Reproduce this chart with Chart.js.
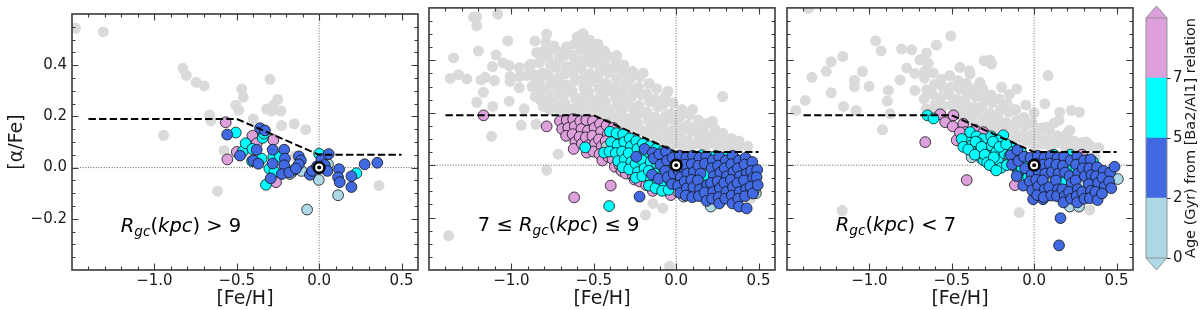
<!DOCTYPE html>
<html><head><meta charset="utf-8">
<script src="https://cdn.jsdelivr.net/npm/chart.js@4.4.1/dist/chart.umd.min.js"></script>
<style>
html,body{margin:0;padding:0;background:#fff;}
#wrap{position:relative;width:1200px;height:310px;overflow:hidden;background:#fff;}
canvas{position:absolute;left:0;top:0;}
</style></head><body>
<div id="wrap">
<canvas id="c1" width="1200" height="310" style="width:1200px;height:310px"></canvas>
<canvas id="c2" width="1200" height="310" style="width:1200px;height:310px"></canvas>
<canvas id="c3" width="1200" height="310" style="width:1200px;height:310px"></canvas>
<canvas id="cb" width="1200" height="310" style="width:1200px;height:310px"></canvas>
</div>
<script>
// ---------------- axes / ticks ----------------
const X_RANGE = [-1.5, 0.6];
const Y_RANGE = [-0.4, 0.6];
const X_MAJOR = [-1.0, -0.5, 0.0, 0.5];
const X_LABELS = ['−1.0', '−0.5', '0.0', '0.5'];
const X_MINOR = [-1.4,-1.3,-1.2,-1.1,-0.9,-0.8,-0.7,-0.6,-0.4,-0.3,-0.2,-0.1,0.1,0.2,0.3,0.4];
const Y_MAJOR = [-0.2, 0.0, 0.2, 0.4];
const Y_LABELS = ['−0.2', '0.0', '0.2', '0.4'];
const Y_MINOR = [-0.35,-0.3,-0.25,-0.15,-0.1,-0.05,0.05,0.1,0.15,0.25,0.3,0.35,0.45,0.5,0.55];

// thick/thin disc boundary
const BOUNDARY_FEH = [-1.4, -0.5, 0.0, 0.5];
const BOUNDARY_ALPHA = [0.19, 0.19, 0.05, 0.05];

// colour bar (age, Gyr)
const CB_TICK_LABELS = ['0', '2', '5', '7'];
const CB_LIMITS = [2, 5, 7, Infinity];
const CB_COLORS = ['#add8e6', '#4169e1', '#00ffff', '#dda0dd'];
const AGE = { young: 1.0, mid: 3.5, old: 6.0, oldest: 8.5 };

// ---------------- panel 1 : Rgc > 9 ----------------
const P1_GRAY = [[-1.478,0.544],[-1.31,0.53],[-0.827,0.388],[-0.806,0.36],[-0.746,0.333],[-0.698,0.319],[-0.665,0.205],[-0.657,0.183],[-0.944,0.126],[-0.47,0.307],[-0.46,0.275],[-0.506,0.244],[-0.488,0.224],[-0.40,0.19],[-0.298,0.345],[-0.319,0.228],[-0.288,0.221],[-0.278,0.244],[-0.252,0.266],[-0.232,0.221],[-0.228,0.164],[-0.151,0.171],[-0.081,0.148],[-0.577,0.067],[-0.617,-0.092],[0.363,-0.07],[-0.415,0.05],[-0.147,0.045]];
const P1_OLDEST = [[-0.567,0.177],[-0.557,0.032],[-0.50,0.061],[-0.405,0.124],[-0.379,0.095],[-0.278,0.108],[-0.262,-0.057]];
const P1_OLD = [[-0.506,0.137],[-0.464,0.063],[-0.446,0.095],[-0.405,0.073],[-0.343,0.116],[-0.335,0.133],[-0.349,0.035],[-0.302,-0.004],[-0.278,0.042],[-0.272,-0.016],[-0.238,0.042],[-0.323,-0.067],[0.0,0.054],[0.226,-0.022],[-0.407,0.025]];
const P1_YOUNG = [[-0.208,-0.016],[-0.167,-0.019],[-0.147,-0.006],[-0.131,-0.003],[-0.107,-0.013],[-0.002,-0.048],[0.054,0.013],[0.115,-0.108],[-0.073,-0.164],[-0.177,-0.025]];
const P1_MID = [[-0.558,0.129],[-0.48,0.047],[-0.40,0.028],[-0.379,0.07],[-0.369,0.015],[-0.359,0.154],[-0.329,0.145],[-0.282,0.07],[-0.282,0.016],[-0.294,-0.042],[-0.212,0.07],[-0.208,0.035],[-0.212,0.009],[-0.226,-0.025],[-0.181,-0.019],[-0.123,0.044],[-0.111,0.028],[-0.123,0.013],[-0.141,-0.004],[-0.056,-0.028],[-0.042,-0.013],[-0.012,0.006],[0.014,0.034],[0.034,0.01],[0.05,-0.013],[0.058,0.053],[0.121,-0.006],[0.115,-0.038],[0.125,-0.057],[0.196,-0.034],[0.196,-0.076],[0.276,0.013],[0.353,0.019]];

// ---------------- panel 2 : 7 <= Rgc <= 9 ----------------
const P2_GRAY = [[-1.23,0.565],[-1.21,0.565],[-1.21,0.531],[-1.083,0.576],[-1.022,0.474],[-1.2,0.436],[-1.351,0.409],[-1.093,0.42],[-1.115,0.376],[-1.013,0.38],[-0.952,0.373],[-0.892,0.38],[-1.371,0.331],[-1.321,0.345],[-1.27,0.329],[-1.184,0.325],[-1.16,0.335],[-1.103,0.323],[-1.008,0.338],[-1.008,0.32],[-0.952,0.338],[-0.904,0.342],[-0.952,0.295],[-1.17,0.278],[-1.21,0.24],[-1.113,0.224],[-1.013,0.244],[-0.922,0.215],[-0.847,0.323],[-0.843,0.278],[-0.793,0.285],[-0.94,0.152],[-0.851,0.156],[-0.786,0.5],[-0.79,0.468],[-0.857,0.474],[-0.847,0.43],[-0.777,0.443],[-0.742,0.455],[-0.565,0.502],[-0.524,0.477],[-0.474,0.462],[-0.434,0.436],[-0.514,0.424],[-0.615,0.405],[-0.686,0.43],[-1.12,0.11],[-0.716,0.042],[-0.786,-0.019],[-1.381,-0.269],[-0.04,-0.386],[-0.081,-0.164],[-0.141,-0.146],[-0.186,-0.19],[0.454,-0.127],[0.282,0.262],[-0.706,0.209],[-0.786,0.231],[-1.05,0.39],[-0.6,0.49],[-0.36,0.418],[-0.2,0.352],[-0.05,0.282],[0.1,0.212],[0.22,0.168]];
const P2_GRAY_CLOUD = [[-0.88,0.385],[-0.86,0.345],[-0.875,0.30],[-0.855,0.262],
 [-0.815,0.432],[-0.83,0.392],[-0.81,0.352],[-0.828,0.318],[-0.812,0.288],[-0.825,0.25],[-0.808,0.224],
 [-0.765,0.452],[-0.778,0.41],[-0.762,0.382],[-0.775,0.342],[-0.76,0.312],[-0.772,0.27],[-0.758,0.242],[-0.768,0.212],
 [-0.725,0.436],[-0.712,0.402],[-0.728,0.372],[-0.715,0.332],[-0.722,0.298],[-0.71,0.268],[-0.726,0.228],
 [-0.665,0.452],[-0.678,0.418],[-0.662,0.376],[-0.675,0.348],[-0.668,0.306],[-0.66,0.278],[-0.676,0.238],[-0.664,0.212],
 [-0.618,0.462],[-0.628,0.42],[-0.612,0.392],[-0.625,0.352],[-0.615,0.322],[-0.63,0.282],[-0.61,0.252],[-0.622,0.216],
 [-0.565,0.468],[-0.578,0.438],[-0.562,0.398],[-0.575,0.368],[-0.568,0.328],[-0.56,0.296],[-0.574,0.258],[-0.566,0.228],[-0.58,0.205],
 [-0.518,0.452],[-0.528,0.418],[-0.512,0.388],[-0.525,0.348],[-0.515,0.318],[-0.53,0.278],[-0.51,0.248],[-0.522,0.21],
 [-0.465,0.432],[-0.478,0.402],[-0.462,0.362],[-0.475,0.332],[-0.468,0.292],[-0.46,0.262],[-0.474,0.222],[-0.466,0.196],
 [-0.418,0.418],[-0.428,0.382],[-0.412,0.352],[-0.425,0.312],[-0.415,0.282],[-0.43,0.242],[-0.41,0.212],[-0.422,0.186],
 [-0.365,0.398],[-0.378,0.368],[-0.362,0.328],[-0.375,0.298],[-0.368,0.258],[-0.36,0.228],[-0.374,0.188],[-0.366,0.172],
 [-0.318,0.382],[-0.328,0.352],[-0.312,0.312],[-0.325,0.282],[-0.315,0.242],[-0.33,0.212],[-0.31,0.178],[-0.322,0.158],
 [-0.265,0.358],[-0.278,0.328],[-0.262,0.288],[-0.275,0.258],[-0.268,0.218],[-0.26,0.188],[-0.274,0.155],[-0.266,0.142],
 [-0.218,0.338],[-0.228,0.298],[-0.212,0.268],[-0.225,0.228],[-0.215,0.198],[-0.23,0.158],[-0.21,0.132],
 [-0.165,0.312],[-0.178,0.272],[-0.162,0.242],[-0.175,0.202],[-0.168,0.172],[-0.16,0.138],[-0.174,0.118],
 [-0.118,0.292],[-0.128,0.252],[-0.112,0.222],[-0.125,0.182],[-0.115,0.152],[-0.13,0.118],[-0.11,0.102],
 [-0.065,0.262],[-0.078,0.232],[-0.062,0.192],[-0.075,0.162],[-0.068,0.128],[-0.06,0.102],[-0.074,0.086],
 [-0.018,0.238],[-0.028,0.198],[-0.012,0.168],[-0.025,0.132],[-0.015,0.106],[-0.03,0.076],
 [0.035,0.212],[0.022,0.182],[0.038,0.142],[0.025,0.118],[0.032,0.082],[0.04,0.066],
 [0.082,0.192],[0.072,0.152],[0.088,0.128],[0.075,0.092],[0.085,0.07],
 [0.135,0.172],[0.122,0.142],[0.138,0.108],[0.125,0.082],
 [0.182,0.158],[0.172,0.122],[0.188,0.098],[0.175,0.068],
 [0.235,0.138],[0.222,0.112],[0.238,0.078],
 [0.282,0.122],[0.272,0.088],[0.288,0.07],
 [0.335,0.102],[0.322,0.078],
 [0.382,0.092],[0.372,0.064],
 [0.435,0.072]];
const P2_OLDEST = [[-1.169,0.19],[-0.786,0.148],[-0.619,-0.123],[-0.397,-0.078],
 [-0.705,0.168],[-0.692,0.138],[-0.664,0.172],[-0.655,0.142],[-0.668,0.112],
 [-0.625,0.176],[-0.615,0.148],[-0.628,0.118],[-0.612,0.088],[-0.622,0.062],
 [-0.582,0.168],[-0.575,0.138],[-0.586,0.108],[-0.572,0.082],
 [-0.545,0.172],[-0.535,0.132],[-0.548,0.106],[-0.532,0.076],[-0.542,0.048],
 [-0.505,0.168],[-0.495,0.142],[-0.508,0.112],[-0.492,0.082],[-0.502,0.052],
 [-0.462,0.158],[-0.455,0.128],[-0.468,0.098],[-0.452,0.072],[-0.465,0.042],[-0.448,0.018],
 [-0.422,0.152],[-0.415,0.118],[-0.428,0.092],[-0.412,0.032],
 [-0.382,0.142],[-0.372,0.108],[-0.385,0.022],[-0.372,-0.006],
 [-0.342,0.122],[-0.335,0.096],[-0.345,0.002],[-0.332,-0.022],
 [-0.302,0.112],[-0.305,-0.032],
 [-0.262,-0.042],[-0.252,-0.055],[-0.222,-0.062],[-0.182,-0.076],[-0.142,-0.098],[-0.032,-0.114]];
const P2_YOUNG = [[-0.423,0.07],[-0.05,-0.019],[0.04,-0.057],[0.045,-0.12],[0.01,-0.101],[0.21,-0.158],[0.484,-0.107],[0.07,-0.05],[0.2,-0.087],[0.47,-0.1],[-0.26,0.09],[0.32,-0.06]];
const P2_OLD = [[-0.407,-0.156],[-0.552,0.068],[-0.438,0.048],
 [-0.402,0.128],[-0.395,0.088],[-0.405,0.052],
 [-0.362,0.122],[-0.355,0.078],[-0.366,0.046],[-0.352,0.016],
 [-0.322,0.118],[-0.315,0.088],[-0.328,0.052],[-0.312,0.022],[-0.325,-0.008],
 [-0.282,0.102],[-0.275,0.072],[-0.288,0.046],[-0.272,0.012],[-0.285,-0.016],
 [-0.242,0.092],[-0.235,0.062],[-0.246,0.006],[-0.232,-0.026],[-0.245,-0.048],
 [-0.202,0.082],[-0.195,0.048],[-0.206,0.018],[-0.192,-0.012],[-0.205,-0.042],
 [-0.162,0.072],[-0.155,0.012],[-0.166,-0.022],[-0.152,-0.052],[-0.165,-0.078],
 [-0.122,0.062],[-0.115,0.006],[-0.126,-0.032],[-0.112,-0.062],[-0.125,-0.088],
 [-0.082,0.052],[-0.075,-0.012],[-0.086,-0.042],[-0.072,-0.072],[-0.085,-0.098],
 [-0.042,0.038],[-0.035,-0.062],[-0.046,-0.094],
 [0.052,-0.094],[0.102,-0.098],[0.122,0.032],[0.182,-0.038],[0.202,0.032],[0.242,0.036],[0.302,0.03],[0.362,0.022],[0.155,0.038],[0.26,-0.07]];
const P2_MID = [[-0.222,-0.12],[-0.242,0.032],[-0.192,0.062],
 [-0.142,0.048],[-0.135,0.026],[-0.146,-0.036],
 [-0.102,0.042],[-0.095,0.002],[-0.106,-0.052],
 [-0.062,0.052],[-0.055,0.018],[-0.066,-0.022],[-0.052,-0.046],
 [-0.022,0.028],[-0.015,-0.032],[-0.026,-0.072],
 [0.022,0.036],[0.015,-0.022],[0.028,-0.046],[0.012,-0.078],[0.025,-0.106],
 [0.062,0.028],[0.055,0.002],[0.068,-0.032],[0.052,-0.062],[0.065,-0.088],[0.058,-0.116],
 [0.102,0.036],[0.095,0.004],[0.108,-0.026],[0.092,-0.056],[0.105,-0.084],[0.098,-0.122],
 [0.142,0.028],[0.135,-0.002],[0.148,-0.032],[0.132,-0.058],[0.145,-0.092],[0.138,-0.118],
 [0.182,0.032],[0.175,0.006],[0.188,-0.076],[0.172,-0.104],[0.185,-0.136],
 [0.222,0.018],[0.215,-0.012],[0.228,-0.042],[0.212,-0.068],[0.225,-0.102],[0.218,-0.128],
 [0.262,0.032],[0.255,-0.002],[0.268,-0.028],[0.252,-0.062],[0.265,-0.088],[0.258,-0.122],[0.262,-0.146],
 [0.302,0.018],[0.295,-0.012],[0.308,-0.042],[0.292,-0.068],[0.305,-0.102],[0.298,-0.128],
 [0.342,0.036],[0.335,0.004],[0.348,-0.026],[0.332,-0.056],[0.345,-0.084],[0.338,-0.116],[0.342,-0.146],
 [0.382,0.018],[0.375,-0.012],[0.388,-0.042],[0.372,-0.068],[0.385,-0.102],[0.378,-0.128],[0.382,-0.158],
 [0.422,0.028],[0.415,0.002],[0.428,-0.032],[0.412,-0.058],[0.425,-0.092],[0.418,-0.118],[0.428,-0.165],
 [0.462,0.012],[0.455,-0.022],[0.468,-0.048],[0.452,-0.082],[0.465,-0.108],
 [0.492,-0.018],[0.488,-0.046],[0.495,-0.076]];

// ---------------- panel 3 : Rgc < 7 ----------------
const P3_GRAY = [[-1.369,0.598],[-0.506,0.493],[-0.962,0.474],[-0.929,0.436],[-0.805,0.443],[-0.744,0.44],[-0.653,0.428],[-0.593,0.458],[-0.693,0.402],[-0.643,0.388],[-0.774,0.371],[-0.724,0.35],[-0.663,0.358],[-0.814,0.325],[-0.724,0.285],[-0.885,0.285],[-0.891,0.244],[-0.875,0.196],[-0.921,0.135],[-1.08,0.209],[-1.157,0.224],[-1.232,0.276],[-1.389,0.247],[-1.446,0.209],[-1.349,0.335],[-1.262,0.358],[-1.232,0.395],[-1.161,0.415],[-1.042,0.357],[-1.091,0.323],[-1.091,0.3],[-1.002,0.301],[-1.165,-0.173],[-0.091,-0.181],[0.337,-0.171],[-0.304,0.398],[-0.268,0.401],[-0.393,0.36],[-0.329,0.316],[-0.45,0.373],[0.226,0.209],[0.151,0.171],[0.065,0.234],[0.075,0.145],[0.145,0.088],[0.216,0.133],[0.256,0.07],[0.276,0.202],[0.317,0.088],[0.155,0.202],[0.085,0.342],[-0.197,0.297],[-0.106,0.291],[-0.389,0.348],[-0.258,0.386],[-0.15,0.27],[-0.05,0.23],[0.0,0.2],[0.12,0.16],[0.2,0.12],[0.37,0.03],[0.39,-0.1]];
const P3_GRAY_CLOUD = [[-0.665,0.332],[-0.652,0.288],[-0.668,0.252],[-0.655,0.214],
 [-0.612,0.352],[-0.605,0.308],[-0.618,0.272],[-0.602,0.232],[-0.615,0.206],
 [-0.562,0.328],[-0.555,0.298],[-0.568,0.258],[-0.552,0.226],[-0.565,0.204],
 [-0.512,0.342],[-0.505,0.298],[-0.518,0.268],[-0.502,0.228],
 [-0.462,0.322],[-0.455,0.292],[-0.468,0.252],[-0.452,0.222],[-0.465,0.194],
 [-0.412,0.312],[-0.405,0.272],[-0.418,0.242],[-0.402,0.202],[-0.415,0.182],
 [-0.362,0.292],[-0.355,0.262],[-0.368,0.222],[-0.352,0.192],[-0.365,0.164],
 [-0.312,0.292],[-0.305,0.252],[-0.318,0.222],[-0.302,0.182],[-0.315,0.156],
 [-0.262,0.268],[-0.255,0.238],[-0.268,0.198],[-0.252,0.168],[-0.265,0.14],
 [-0.212,0.252],[-0.205,0.212],[-0.218,0.182],[-0.202,0.148],[-0.215,0.126],
 [-0.162,0.232],[-0.155,0.202],[-0.168,0.162],[-0.152,0.136],[-0.165,0.11],
 [-0.112,0.212],[-0.105,0.172],[-0.118,0.142],[-0.102,0.108],[-0.115,0.094],
 [-0.062,0.182],[-0.055,0.152],[-0.068,0.118],[-0.052,0.092],
 [-0.012,0.162],[-0.005,0.122],[-0.018,0.096],[-0.002,0.07],
 [0.042,0.142],[0.035,0.112],[0.048,0.08],
 [0.092,0.132],[0.085,0.094],[0.098,0.07],
 [0.142,0.112],[0.135,0.086],
 [0.192,0.106],[0.185,0.074],
 [0.242,0.092],[0.235,0.07],
 [0.292,0.086],[0.285,0.064],
 [0.342,0.074],
 [0.392,0.066]];
const P3_OLDEST = [[-0.661,0.088],[-0.409,-0.057],[-0.117,-0.076],[-0.57,0.194],[-0.54,0.164],[-0.49,0.19],[-0.494,0.148],[-0.43,0.158],[-0.419,0.126],[-0.47,0.095],[-0.36,0.135],[-0.308,0.126],[-0.369,0.07],[-0.33,0.065],[-0.157,0.019],[0.29,0.04],[-0.45,0.125]];
const P3_YOUNG = [[0.216,-0.158],[0.272,-0.158],[0.296,-0.076],[0.508,-0.053],[0.085,-0.114],[-0.379,0.03],[0.11,-0.067],[0.4,-0.1],[0.205,-0.09]];
const P3_OLD = [[-0.647,0.19],[-0.611,0.178],[-0.409,0.095],[-0.389,0.126],[-0.35,0.11],[-0.31,0.1],[-0.38,0.075],[-0.34,0.085],[-0.318,0.025],[-0.308,0.019],[-0.248,-0.006],[-0.33,0.045],[-0.29,0.06],[-0.26,0.075],[-0.27,0.035],[-0.23,0.05],[-0.197,0.076],[-0.187,0.114],[-0.22,0.02],[-0.18,0.045],[-0.14,0.07],[-0.15,0.035],[-0.12,0.04],[-0.087,0.019],[-0.066,-0.025],[-0.046,-0.05],[-0.036,-0.044],[-0.056,0.031],[-0.03,0.01],[-0.1,-0.03],[-0.13,0.0],[0.226,-0.006],[0.307,0.013],[0.357,0.013],[0.175,-0.057],[0.22,0.04],[0.175,0.031],[0.256,-0.013],[0.327,0.019],[0.12,0.04],[0.05,-0.07],[-0.26,0.11],[-0.22,0.095],
 [-0.44,0.1],[-0.43,0.07],[-0.4,0.06],[-0.36,0.04],[-0.355,0.09],[-0.32,0.07],[-0.3,0.04],[-0.285,0.01],[-0.25,0.09],[-0.245,0.03],[-0.21,0.07],[-0.2,-0.01],[-0.17,0.08],[-0.165,0.0],[-0.13,0.05],[-0.11,0.015],[-0.08,0.05],[-0.075,-0.01],[-0.05,0.0],[-0.02,-0.02],[-0.27,0.0],[-0.23,-0.02]];
const P3_MID = [[-0.006,-0.13],[0.054,-0.13],[0.16,-0.202],[0.151,-0.306],
 [-0.142,0.038],[-0.135,0.002],
 [-0.102,0.058],[-0.095,0.016],[-0.106,-0.042],
 [-0.062,0.032],[-0.055,-0.012],[-0.066,-0.078],
 [-0.022,0.028],[-0.015,-0.036],[-0.026,-0.062],[-0.012,-0.096],
 [0.022,0.036],[0.015,0.004],[0.028,-0.026],[0.012,-0.056],[0.025,-0.082],[0.018,-0.114],
 [0.062,0.028],[0.055,0.002],[0.068,-0.032],[0.052,-0.058],[0.065,-0.092],[0.058,-0.122],
 [0.102,0.036],[0.095,0.006],[0.108,-0.026],[0.092,-0.084],[0.105,-0.116],
 [0.142,0.028],[0.135,0.002],[0.148,-0.032],[0.132,-0.058],[0.145,-0.092],[0.138,-0.118],
 [0.182,0.032],[0.175,-0.002],[0.188,-0.028],[0.172,-0.092],[0.185,-0.118],[0.178,-0.142],
 [0.222,0.018],[0.215,-0.042],[0.228,-0.068],[0.212,-0.102],[0.225,-0.128],
 [0.262,0.032],[0.255,0.002],[0.268,-0.032],[0.252,-0.058],[0.265,-0.092],[0.258,-0.118],[0.262,-0.142],
 [0.302,0.018],[0.295,-0.012],[0.308,-0.042],[0.292,-0.102],[0.305,-0.128],
 [0.342,0.022],[0.335,-0.012],[0.348,-0.038],[0.332,-0.072],[0.345,-0.098],[0.338,-0.126],
 [0.382,-0.008],[0.375,-0.042],[0.388,-0.068],[0.372,-0.102],[0.385,-0.133],
 [0.422,-0.022],[0.415,-0.048],[0.428,-0.082],[0.412,-0.108],
 [0.462,-0.028],[0.455,-0.062],[0.468,-0.088],
 [0.488,-0.006]];

// ---------------- helpers ----------------
const FONT = "'DejaVu Sans', sans-serif";
Chart.defaults.font.family = FONT;
Chart.defaults.color = '#1a1a1a';

function pairs(list) { return list.map(([x, y]) => ({ x, y })); }
function withAge(points, age) { return points.map(p => ({ x: p.x, y: p.y, age })); }
function ageColor(a) { for (let i = 0; i < CB_LIMITS.length; i++) if (a < CB_LIMITS[i]) return CB_COLORS[i]; return CB_COLORS[3]; }

const framePlugin = {
  id: 'frame',
  afterDraw(chart) {
    const { ctx, chartArea: a, scales: { x, y } } = chart;
    ctx.save();
    ctx.strokeStyle = '#3a3a3a';
    ctx.lineWidth = 1.1;
    ctx.beginPath();
    const xt = (v, len) => { const p = Math.round(x.getPixelForValue(v)) + 0.5;
      ctx.moveTo(p, a.bottom); ctx.lineTo(p, a.bottom - len); ctx.moveTo(p, a.top); ctx.lineTo(p, a.top + len); };
    const yt = (v, len) => { const p = Math.round(y.getPixelForValue(v)) + 0.5;
      ctx.moveTo(a.left, p); ctx.lineTo(a.left + len, p); ctx.moveTo(a.right, p); ctx.lineTo(a.right - len, p); };
    X_MAJOR.forEach(v => xt(v, 6.5)); X_MINOR.forEach(v => xt(v, 3.5));
    Y_MAJOR.forEach(v => yt(v, 6.5)); Y_MINOR.forEach(v => yt(v, 3.5));
    ctx.stroke();
    ctx.lineWidth = 1.6;
    ctx.strokeRect(a.left, a.top, a.right - a.left, a.bottom - a.top);
    ctx.restore();
  }
};

function labelPlugin(parts) {
  return {
    id: 'rgcLabel',
    afterDraw(chart) {
      const { ctx, chartArea: a } = chart;
      const size = 19.5;
      let xx = a.left + 0.141 * (a.right - a.left);
      const base = a.bottom - 0.148 * (a.bottom - a.top);
      ctx.save();
      ctx.fillStyle = '#000'; ctx.textAlign = 'left'; ctx.textBaseline = 'alphabetic';
      parts.forEach(p => {
        const s = p.sub ? size * 0.7 : size;
        ctx.font = (p.it ? 'italic ' : '') + s + 'px ' + FONT;
        ctx.fillText(p.t, xx, base + (p.sub ? size * 0.2 : 0));
        xx += ctx.measureText(p.t).width;
      });
      ctx.restore();
    }
  };
}

function makePanel(id, left, right, gray, starGroups, showY, parts) {
  const starData = [];
  starGroups.forEach(g => starData.push(...g));
  const boundary = BOUNDARY_FEH.map((v, i) => ({ x: v, y: BOUNDARY_ALPHA[i] }));
  const datasets = [
    { label: 'Sun centre', data: [{ x: 0, y: 0 }], pointRadius: 2, backgroundColor: '#000', borderWidth: 0, order: 1 },
    { label: 'Sun', data: [{ x: 0, y: 0 }], pointRadius: 5.3, backgroundColor: '#fff', borderColor: '#000', borderWidth: 2.6, order: 2 },
    { label: 'thin/thick boundary', data: boundary, showLine: true, borderColor: '#000', borderWidth: 2, borderDash: [7.4, 3.2], pointRadius: 0, fill: false, tension: 0, order: 3 },
    { label: 'stars with age', data: starData, pointRadius: 5.4, borderWidth: 0.8, borderColor: '#111',
      backgroundColor: c => ageColor(c.raw ? c.raw.age : 0), order: 4 },
    { label: 'x=0', data: [{ x: 0, y: Y_RANGE[0] }, { x: 0, y: Y_RANGE[1] }], showLine: true, borderColor: '#666', borderWidth: 1, borderDash: [1, 1.65], pointRadius: 0, order: 5 },
    { label: 'y=0', data: [{ x: X_RANGE[0], y: 0 }, { x: X_RANGE[1], y: 0 }], showLine: true, borderColor: '#666', borderWidth: 1, borderDash: [1, 1.65], pointRadius: 0, order: 5 },
    { label: 'all stars', data: gray, pointRadius: 5.5, backgroundColor: '#dadada', borderWidth: 0, order: 6 }
  ];
  return new Chart(document.getElementById(id), {
    type: 'scatter',
    data: { datasets },
    options: {
      responsive: false, animation: false, events: [], devicePixelRatio: 1,
      layout: { padding: { left: 0, right: 1200 - right, top: 6, bottom: 0 } },
      plugins: { legend: { display: false }, tooltip: { enabled: false } },
      scales: {
        x: {
          type: 'linear', min: X_RANGE[0], max: X_RANGE[1],
          grid: { display: false, drawTicks: false }, border: { display: false },
          afterBuildTicks: s => { s.ticks = X_MAJOR.map(v => ({ value: v })); },
          afterFit: s => { s.height = 40; },
          ticks: { autoSkip: false, maxRotation: 0, padding: 2, font: { size: 15 }, color: '#1a1a1a',
            callback: (v, i) => X_LABELS[i] },
          title: { display: true, text: '[Fe/H]', font: { size: 19 }, color: '#1a1a1a', padding: { top: 0, bottom: 0 } }
        },
        y: {
          type: 'linear', min: Y_RANGE[0], max: Y_RANGE[1],
          grid: { display: false, drawTicks: false }, border: { display: false },
          afterBuildTicks: s => { s.ticks = Y_MAJOR.map(v => ({ value: v })); },
          afterFit: s => { s.width = left; },
          ticks: { display: showY, autoSkip: false, padding: 5, font: { size: 15 }, color: '#1a1a1a',
            callback: (v, i) => Y_LABELS[i] },
          title: { display: showY, text: '[α/Fe]', font: { size: 19 }, color: '#1a1a1a', padding: { top: 6, bottom: 0 } }
        }
      }
    },
    plugins: [framePlugin, labelPlugin(parts)]
  });
}

const R = [{ t: 'R', it: true }, { t: 'gc', it: true, sub: true }, { t: '(', it: false }, { t: 'kpc', it: true }, { t: ')', it: false }];

makePanel('c1', 72, 418, pairs(P1_GRAY),
  [withAge(pairs(P1_OLDEST), AGE.oldest), withAge(pairs(P1_YOUNG), AGE.young), withAge(pairs(P1_OLD), AGE.old), withAge(pairs(P1_MID), AGE.mid)],
  true, [...R, { t: ' > 9' }]);
makePanel('c2', 429, 775, pairs(P2_GRAY).concat(pairs(P2_GRAY_CLOUD)),
  [withAge(pairs(P2_OLDEST), AGE.oldest), withAge(pairs(P2_YOUNG), AGE.young), withAge(pairs(P2_OLD), AGE.old), withAge(pairs(P2_MID), AGE.mid)],
  false, [{ t: '7 ≤ ' }, ...R, { t: ' ≤ 9' }]);
makePanel('c3', 787, 1133, pairs(P3_GRAY).concat(pairs(P3_GRAY_CLOUD)),
  [withAge(pairs(P3_OLDEST), AGE.oldest), withAge(pairs(P3_YOUNG), AGE.young), withAge(pairs(P3_OLD), AGE.old), withAge(pairs(P3_MID), AGE.mid)],
  false, [...R, { t: ' < 7' }]);

// ---------------- colour bar ----------------
const cbPlugin = {
  id: 'cbExtras',
  afterDraw(chart) {
    const { ctx, chartArea: a, scales: { y } } = chart;
    const cx = (a.left + a.right) / 2, ext = 12;
    ctx.save();
    ctx.fillStyle = CB_COLORS[3];
    ctx.beginPath(); ctx.moveTo(a.left, a.top); ctx.lineTo(a.right, a.top); ctx.lineTo(cx, a.top - ext); ctx.closePath(); ctx.fill();
    ctx.fillStyle = CB_COLORS[0];
    ctx.beginPath(); ctx.moveTo(a.left, a.bottom); ctx.lineTo(a.right, a.bottom); ctx.lineTo(cx, a.bottom + ext); ctx.closePath(); ctx.fill();
    ctx.strokeStyle = '#8a8a8a'; ctx.lineWidth = 0.9;
    ctx.beginPath();
    ctx.moveTo(a.left, a.top); ctx.lineTo(cx, a.top - ext); ctx.lineTo(a.right, a.top);
    ctx.lineTo(a.right, a.bottom); ctx.lineTo(cx, a.bottom + ext); ctx.lineTo(a.left, a.bottom); ctx.closePath();
    ctx.stroke();
    ctx.beginPath(); ctx.moveTo(a.left, a.top); ctx.lineTo(a.right, a.top); ctx.moveTo(a.left, a.bottom); ctx.lineTo(a.right, a.bottom); ctx.stroke();
    ctx.strokeStyle = '#333'; ctx.lineWidth = 1;
    ctx.beginPath();
    [0, 1, 2, 3].forEach(v => { const p = Math.round(y.getPixelForValue(v)) + 0.5; ctx.moveTo(a.right, p); ctx.lineTo(a.right + 3.5, p); });
    ctx.stroke();
    ctx.translate(1191, (a.top + a.bottom) / 2);
    ctx.rotate(-Math.PI / 2);
    ctx.font = '14.5px ' + FONT; ctx.fillStyle = '#1a1a1a'; ctx.textAlign = 'center'; ctx.textBaseline = 'middle';
    ctx.fillText('Age (Gyr) from [Ba2/Al1] relation', 0, 0);
    ctx.restore();
  }
};
new Chart(document.getElementById('cb'), {
  type: 'bar',
  data: { labels: ['age'], datasets: CB_COLORS.map((c, i) => ({ label: CB_TICK_LABELS[i], data: [1], backgroundColor: c, borderWidth: 0, barPercentage: 1, categoryPercentage: 1 })) },
  options: {
    responsive: false, animation: false, events: [], devicePixelRatio: 1,
    layout: { padding: { left: 1146, right: 0, top: 18, bottom: 52 } },
    plugins: { legend: { display: false }, tooltip: { enabled: false } },
    scales: {
      x: { display: false, stacked: true },
      y: { position: 'right', stacked: true, min: 0, max: 4,
        grid: { display: false, drawTicks: false }, border: { display: false },
        afterBuildTicks: s => { s.ticks = [0, 1, 2, 3].map(v => ({ value: v })); },
        afterFit: s => { s.width = 33; },
        ticks: { autoSkip: false, padding: 6, font: { size: 15 }, color: '#1a1a1a', callback: (v, i) => CB_TICK_LABELS[i] } }
    }
  },
  plugins: [cbPlugin]
});
</script>
</body></html>
